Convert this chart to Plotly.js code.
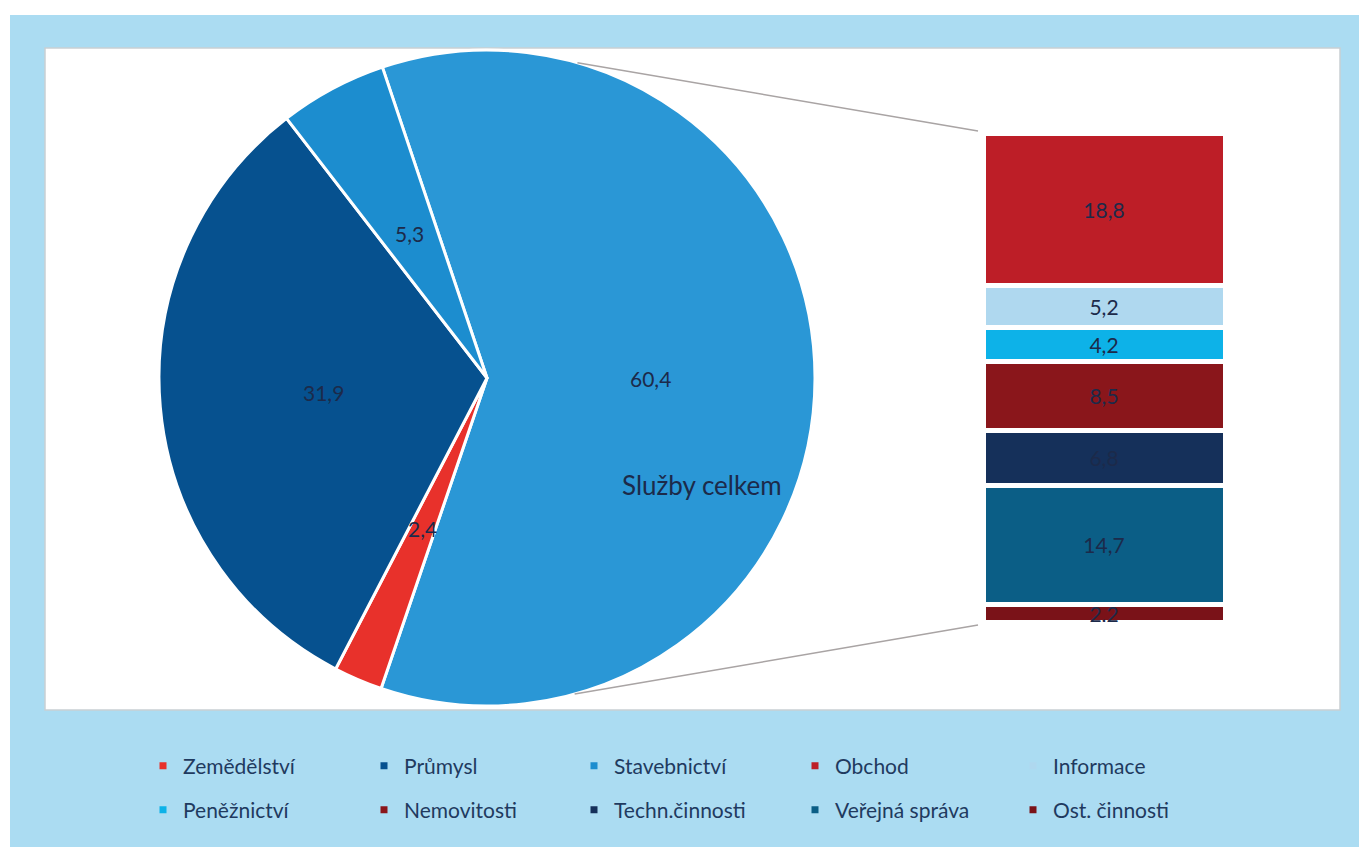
<!DOCTYPE html>
<html>
<head>
<meta charset="utf-8">
<script src="https://cdn.plot.ly/plotly-3.0.1.min.js"></script>
<style>html,body{margin:0;padding:0;background:#fff;}#chart{width:1359px;height:847px;}</style>
</head>
<body>
<div id="chart"></div>
<script>
// ---- data ----
const pieLabels = ['Služby celkem', 'Zemědělství', 'Průmysl', 'Stavebnictví'];
const pieValues = [60.4, 2.4, 31.9, 5.3];
const pieColors = ['#2A97D6', '#E8312B', '#06518F', '#1C8DCF'];

const barLabels = ['Obchod', 'Informace', 'Peněžnictví', 'Nemovitosti', 'Techn.činnosti', 'Veřejná správa', 'Ost. činnosti'];
const barValues = [18.8, 5.2, 4.2, 8.5, 6.8, 14.7, 2.2];
const barColors = ['#BD1E27', '#AFD8EF', '#0DB2E8', '#8A161B', '#15305A', '#0B5E86', '#7A1218'];

const legendRow1 = ['Zemědělství', 'Průmysl', 'Stavebnictví', 'Obchod', 'Informace'];
const legendRow2 = ['Peněžnictví', 'Nemovitosti', 'Techn.činnosti', 'Veřejná správa', 'Ost. činnosti'];
const totalLabel = 'Služby celkem';

// ---- layout geometry (pixels) ----
const W = 1359, H = 847;
const pieBox = {x0: 158, x1: 816, y0: 50, y1: 706};
const barBox = {x0: 983, x1: 1225, y0: 133, y1: 622};
const legendColX = [163, 384, 594, 815, 1033];
const legendRowY = [766, 810];
const rotation = -18.6;
const px = x => x / W;
const py = y => 1 - y / H;

const textColor = '#1C2A4A';
const fontFam = 'Lato, "Open Sans", sans-serif';

const colorOf = {};
pieLabels.forEach((l, i) => colorOf[l] = pieColors[i]);
barLabels.forEach((l, i) => colorOf[l] = barColors[i]);

const traces = [];
traces.push({
  type: 'pie',
  labels: pieLabels,
  values: pieValues,
  sort: false,
  direction: 'clockwise',
  rotation: rotation,
  marker: {colors: pieColors, line: {color: '#FFFFFF', width: 3}},
  textinfo: 'none',
  hoverinfo: 'label+value',
  showlegend: false,
  domain: {x: [px(pieBox.x0), px(pieBox.x1)], y: [py(pieBox.y1), py(pieBox.y0)]}
});

barLabels.forEach((l, i) => {
  traces.push({
    type: 'bar',
    name: l,
    x: ['S'],
    y: [barValues[i]],
    marker: {color: barColors[i], line: {color: '#FFFFFF', width: 5}},
    texttemplate: '%{y:.1f}',
    textposition: 'inside',
    insidetextanchor: 'middle',
    constraintext: 'none',
    textfont: {family: fontFam, size: 21, color: textColor},
    showlegend: false,
    xaxis: 'x', yaxis: 'y'
  });
});

const layout = {
  width: W, height: H,
  margin: {l: 0, r: 0, t: 0, b: 0},
  paper_bgcolor: '#FFFFFF',
  plot_bgcolor: 'rgba(0,0,0,0)',
  separators: ', ',
  barmode: 'stack',
  bargap: 0,
  xaxis: {domain: [px(barBox.x0), px(barBox.x1)], visible: false, fixedrange: true, range: [-0.5, 0.5]},
  yaxis: {domain: [py(barBox.y1), py(barBox.y0)], visible: false, fixedrange: true,
          range: [barValues.reduce((a, b) => a + b, 0), 0]},
  showlegend: true
};

// one small legend per entry, placed on a 5x2 grid
[legendRow1, legendRow2].forEach((row, r) => {
  row.forEach((name, c) => {
    const idx = r * 5 + c;
    const key = idx === 0 ? 'legend' : 'legend' + (idx + 1);
    traces.push({
      type: 'scatter', mode: 'markers', name: name,
      x: [null], y: [null],
      marker: {symbol: 'square', size: 7, color: colorOf[name]},
      showlegend: true, legend: key, hoverinfo: 'skip',
      xaxis: 'x', yaxis: 'y'
    });
    layout[key] = {
      x: px(legendColX[c] - 20), y: py(legendRowY[r]),
      xanchor: 'left', yanchor: 'middle', orientation: 'v',
      bgcolor: 'rgba(0,0,0,0)', borderwidth: 0, itemwidth: 30,
      font: {family: fontFam, size: 21, color: '#1F3A5F'},
      itemclick: false, itemdoubleclick: false
    };
  });
});

// pie label annotations, computed from the data
const cx = (pieBox.x0 + pieBox.x1) / 2, cy = (pieBox.y0 + pieBox.y1) / 2;
const R = Math.min(pieBox.x1 - pieBox.x0, pieBox.y1 - pieBox.y0) / 2;
const total = pieValues.reduce((a, b) => a + b, 0);
const annotations = [];
let acc = 0;
pieValues.forEach((v, i) => {
  const mid = (rotation + (acc + v / 2) / total * 360) * Math.PI / 180;
  acc += v;
  const tx = cx + 0.5 * R * Math.sin(mid);
  const ty = cy - 0.5 * R * Math.cos(mid);
  annotations.push({
    xref: 'paper', yref: 'paper', x: px(tx), y: py(ty),
    text: v.toFixed(1).replace('.', ','), showarrow: false,
    font: {family: fontFam, size: 21, color: textColor},
    xanchor: 'center', yanchor: 'middle'
  });
});
annotations.push({
  xref: 'paper', yref: 'paper', x: px(cx + 215), y: py(cy + 107),
  text: totalLabel, showarrow: false,
  font: {family: fontFam, size: 26, color: textColor},
  xanchor: 'center', yanchor: 'middle'
});

// connector lines from pie rim to bar corners
const a1 = 16 * Math.PI / 180, a2 = 164.5 * Math.PI / 180;
const p1 = [cx + R * Math.sin(a1), cy - R * Math.cos(a1)];
const p2 = [cx + R * Math.sin(a2), cy - R * Math.cos(a2)];

layout.annotations = annotations;
layout.shapes = [
  {type: 'rect', xref: 'paper', yref: 'paper', x0: px(10), x1: 1, y0: 0, y1: py(15),
   fillcolor: '#ABDCF2', line: {width: 0}, layer: 'below'},
  {type: 'rect', xref: 'paper', yref: 'paper', x0: px(45), x1: px(1340), y0: py(710), y1: py(48),
   fillcolor: '#FFFFFF', line: {color: '#C9CFD4', width: 1.5}, layer: 'below'},
  {type: 'line', xref: 'paper', yref: 'paper', x0: px(p1[0]), y0: py(p1[1]), x1: px(barBox.x0 - 5), y1: py(barBox.y0 - 2),
   line: {color: '#A9A4A4', width: 1.5}},
  {type: 'line', xref: 'paper', yref: 'paper', x0: px(p2[0]), y0: py(p2[1]), x1: px(barBox.x0 - 5), y1: py(barBox.y1 + 3),
   line: {color: '#A9A4A4', width: 1.5}}
];

Plotly.newPlot('chart', traces, layout, {displayModeBar: false, staticPlot: true});
</script>
</body>
</html>
